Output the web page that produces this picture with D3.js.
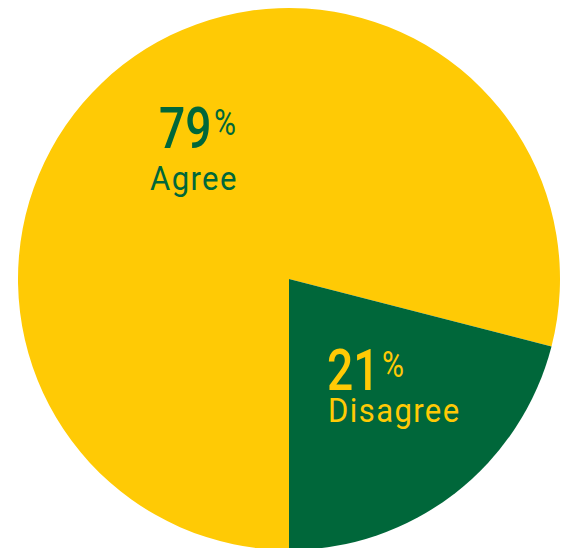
<!DOCTYPE html>
<html>
<head>
<meta charset="utf-8">
<script src="https://cdn.jsdelivr.net/npm/d3@7"></script>
<style>
  body { margin: 0; background: #fff; }
  text { font-family: Roboto, "DejaVu Sans", sans-serif; }
</style>
</head>
<body>
<div></div>
<script>
// data
var labels = ["Agree", "Disagree"];
var values = [79, 21];
var colors = ["#FFCA05", "#00673A"];
var textColors = ["#00673A", "#FFCA05"];

var width = 561, height = 548;
var cx = 289, cy = 279, radius = 271;

var svg = d3.select("body").select("div").append("svg")
    .attr("width", width)
    .attr("height", height);

var g = svg.append("g")
    .attr("transform", "translate(" + cx + "," + cy + ")");

// pie starts at 6 o'clock, going clockwise
var pie = d3.pie()
    .sort(null)
    .startAngle(Math.PI)
    .endAngle(3 * Math.PI);

var arc = d3.arc().innerRadius(0).outerRadius(radius);

var arcs = pie(values);

g.selectAll("path")
    .data(arcs)
  .enter().append("path")
    .attr("d", arc)
    .attr("fill", function(d, i) { return colors[i]; });

// label positions relative to center: [number x, number y, word x, word y]
var labelPos = [[-130, -131, -139, -89], [38, 111, 39, 143]];

var lab = g.selectAll("g.lab")
    .data(arcs)
  .enter().append("g")
    .attr("class", "lab")
    .attr("fill", function(d, i) { return textColors[i]; });

// condensed number + superscript percent
var pct = lab.append("text")
    .attr("transform", function(d, i) {
      return "translate(" + labelPos[i][0] + "," + labelPos[i][1] + ") scale(0.81,1)";
    });
pct.append("tspan")
    .style("font-size", "57px")
    .style("font-weight", "500")
    .text(function(d) { return d.data; });
pct.append("tspan")
    .style("font-size", "37px")
    .attr("dx", 3)
    .attr("dy", -13)
    .text("%");

lab.append("text")
    .attr("transform", function(d, i) {
      return "translate(" + labelPos[i][2] + "," + labelPos[i][3] + ") scale(0.94,1)";
    })
    .style("font-size", "33px")
    .style("letter-spacing", "1.5px")
    .text(function(d, i) { return labels[i]; });
</script>
</body>
</html>
